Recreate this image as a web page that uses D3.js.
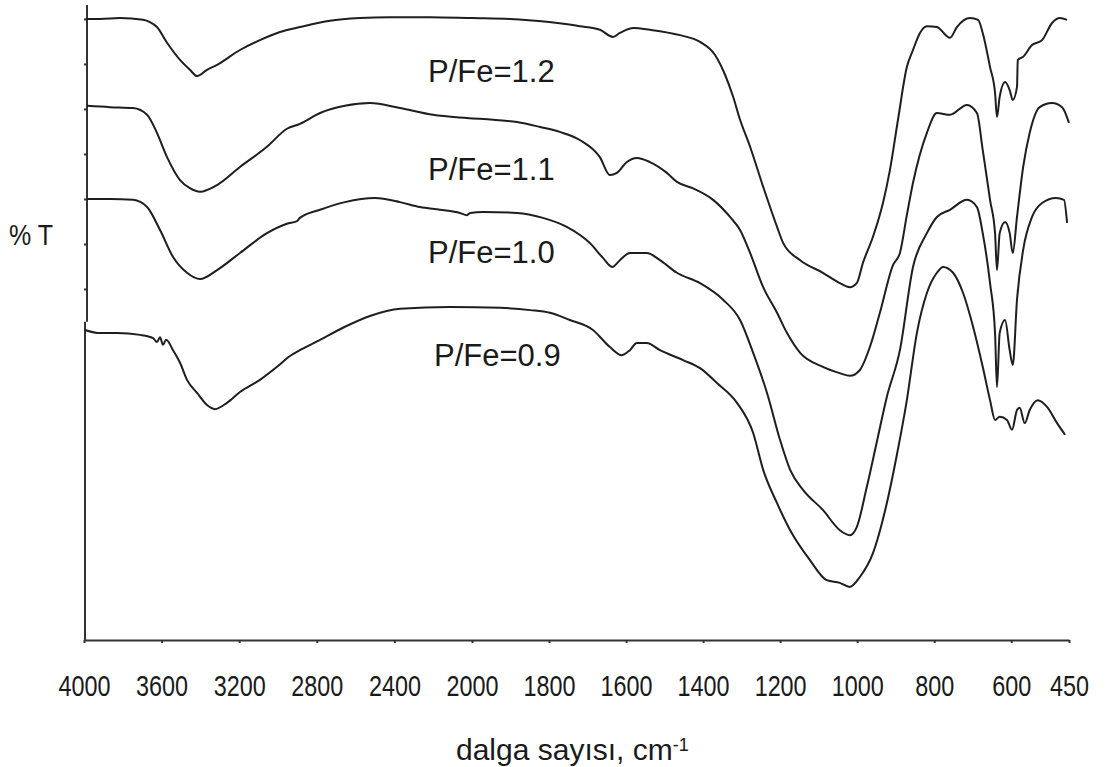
<!DOCTYPE html>
<html>
<head>
<meta charset="utf-8">
<script src="https://cdn.jsdelivr.net/npm/d3@7"></script>
<style>
  body { margin: 0; background: #fff; }
  svg text { font-family: "Liberation Sans", Arial, sans-serif; fill: #1a1a1a; }
</style>
</head>
<body>
<script>
// IR spectra, [wavenumber cm-1, %T (arbitrary, stacked)]
const fe12 = [[3990,138.0],[3918,138.0],[3814,138.2],[3696,137.8],[3660,137.3],[3624,136.2],[3572,132.7],[3505,128.9],[3454,126.7],[3417,125.3],[3366,126.7],[3314,127.8],[3196,131.1],[3093,133.3],[2990,135.1],[2887,136.2],[2732,137.6],[2577,138.2],[2423,138.4],[2216,138.4],[2000,138.2],[1901,138.0],[1800,137.3],[1720,136.4],[1668,135.6],[1634,134.0],[1616,134.9],[1580,136.0],[1538,135.6],[1460,134.4],[1408,132.9],[1369,130.0],[1343,125.6],[1322,120.7],[1304,115.6],[1278,109.6],[1244,100.7],[1208,91.8],[1192,88.2],[1148,84.4],[1089,81.6],[1045,79.3],[1019,78.4],[1001,79.3],[985,83.8],[959,89.6],[933,97.1],[915,104.4],[894,115.6],[871,127.3],[855,131.1],[837,134.9],[819,136.4],[793,136.2],[759,133.8],[741,136.2],[707,138.2],[686,137.8],[674,134.9],[655,127.3],[642,121.6],[637,116.2],[630,120.7],[616,124.0],[604,122.2],[596,120.0],[585,122.9],[583,128.9],[569,129.6],[546,132.2],[520,133.3],[494,137.1],[474,138.2],[455,137.8]];

const fe11 = [[3985,118.7],[3866,118.4],[3747,118.2],[3675,116.7],[3624,112.7],[3572,107.3],[3505,102.2],[3454,100.4],[3402,99.6],[3314,101.1],[3196,105.1],[3057,109.6],[2954,113.6],[2887,114.7],[2783,117.1],[2655,118.7],[2526,119.3],[2371,118.2],[2201,116.7],[2026,116.0],[1945,115.6],[1883,115.1],[1823,114.0],[1772,112.9],[1720,111.1],[1668,107.3],[1642,103.3],[1624,103.8],[1598,106.2],[1572,107.1],[1538,106.2],[1494,103.8],[1468,101.8],[1427,100.4],[1374,97.8],[1330,94.0],[1304,91.1],[1278,86.0],[1244,78.4],[1208,72.7],[1182,68.2],[1148,63.8],[1089,60.7],[1045,59.3],[1019,58.7],[993,60.0],[967,65.1],[941,72.7],[907,83.3],[889,86.0],[871,94.4],[855,101.6],[819,112.7],[793,117.1],[759,116.7],[715,118.9],[689,117.1],[674,108.9],[655,97.8],[642,90.4],[637,82.2],[630,90.4],[616,92.9],[604,90.4],[596,86.0],[585,94.0],[569,105.1],[552,112.7],[526,118.4],[494,119.3],[468,118.4],[450,114.9]];

const fe10 = [[3985,98.0],[3866,98.0],[3747,97.8],[3675,96.2],[3608,91.1],[3541,85.1],[3469,81.6],[3402,80.2],[3314,82.2],[3196,86.0],[3057,90.4],[2954,92.5],[2902,93.1],[2887,93.8],[2783,95.6],[2655,97.3],[2500,98.2],[2371,97.3],[2268,96.2],[2165,95.6],[2062,94.9],[2026,94.4],[2010,94.9],[1971,95.1],[1883,94.9],[1816,93.8],[1754,91.8],[1694,88.2],[1660,84.9],[1636,82.9],[1616,84.4],[1590,86.0],[1546,86.0],[1512,84.4],[1468,81.6],[1408,79.3],[1348,75.6],[1304,71.1],[1270,63.8],[1234,54.9],[1200,44.4],[1174,37.8],[1140,33.3],[1089,28.9],[1045,24.4],[1019,23.3],[1001,25.1],[975,34.0],[948,44.4],[923,54.0],[889,64.4],[855,82.9],[819,90.4],[793,94.0],[759,95.6],[715,97.8],[689,96.2],[674,90.4],[655,79.3],[642,68.2],[637,56.2],[630,68.2],[616,71.1],[604,64.4],[596,61.1],[585,75.6],[569,86.7],[546,94.0],[520,97.1],[484,98.2],[463,97.8],[455,92.7]];

const fe09 = [[3995,68.9],[3918,68.2],[3830,68.2],[3711,67.8],[3644,67.1],[3624,66.2],[3608,67.3],[3593,65.6],[3577,66.7],[3541,64.4],[3505,61.6],[3469,57.8],[3417,54.9],[3366,52.2],[3325,51.3],[3263,52.7],[3196,55.1],[3093,57.8],[3005,60.7],[2938,63.1],[2887,64.4],[2783,66.7],[2655,69.6],[2526,72.0],[2371,73.6],[2113,74.0],[1927,73.8],[1849,73.3],[1798,72.7],[1746,71.1],[1686,68.9],[1642,65.1],[1611,63.3],[1590,64.4],[1572,66.0],[1546,66.0],[1512,64.4],[1452,62.2],[1408,60.4],[1364,57.1],[1312,52.7],[1270,46.0],[1244,37.8],[1208,30.4],[1174,24.4],[1123,17.8],[1079,13.3],[1045,12.7],[1019,11.8],[993,14.0],[959,19.3],[923,30.4],[897,41.1],[871,53.3],[845,68.2],[819,77.1],[793,81.6],[777,82.9],[751,81.6],[725,77.1],[699,69.6],[674,60.7],[655,53.3],[642,48.9],[630,49.6],[611,48.9],[598,46.7],[585,51.1],[578,51.6],[565,48.2],[552,51.1],[531,53.3],[507,51.8],[481,48.2],[460,45.6]];

const seriesLabels = ['P/Fe=1.2', 'P/Fe=1.1', 'P/Fe=1.0', 'P/Fe=0.9'];
// label anchors in data units [wavenumber, %T]
const labelAnchors = [[2227, 124.0], [2227, 102.2], [2227, 83.8], [2196, 60.9]];

const xTicks = [4000, 3600, 3200, 2800, 2400, 2000, 1800, 1600, 1400, 1200, 1000, 800, 600, 450];
const yTicks = [78, 88, 98, 108, 118, 128, 138];
const yBreak = 70.7; // where the left axis line is offset

const W = 1111, H = 767;
const margin = { left: 84, right: 1069, top: 5, bottom: 640 };

const svg = d3.select('body').append('svg')
  .attr('width', W)
  .attr('height', H);

// x axis changes scale at 2000 cm-1
const x = d3.scaleLinear()
  .domain([4000, 2000, 450])
  .range([margin.left, 472, margin.right]);

const y = d3.scaleLinear()
  .domain([0, 141.1])
  .range([margin.bottom, margin.top]);

// X axis
const xAxis = svg.append('g')
  .attr('transform', `translate(0,${margin.bottom})`)
  .call(d3.axisBottom(x).tickValues(xTicks).tickSize(3).tickSizeOuter(0).tickFormat(d3.format('d')));
xAxis.select('.domain').attr('stroke', '#333').attr('stroke-width', 2);
xAxis.selectAll('.tick line').attr('stroke', '#333').attr('stroke-width', 2);
xAxis.selectAll('.tick text')
  .attr('y', 56)
  .attr('dy', null)
  .attr('font-size', 30)
  .attr('textLength', d => d >= 1000 ? 52 : 39)
  .attr('lengthAdjust', 'spacingAndGlyphs')
  .style('font-family', '"Liberation Sans", Arial, sans-serif')
  .attr('fill', '#1a1a1a');

// Y axis (ticks only on upper part, line drawn in two pieces)
const yAxis = svg.append('g')
  .attr('transform', `translate(${margin.left + 3},0)`)
  .call(d3.axisLeft(y).tickValues(yTicks).tickSize(3).tickFormat(''));
yAxis.select('.domain').remove();
yAxis.selectAll('.tick line').attr('stroke', '#333').attr('stroke-width', 2);

svg.append('line')
  .attr('x1', margin.left + 3).attr('x2', margin.left + 3)
  .attr('y1', y(141.1)).attr('y2', y(yBreak))
  .attr('stroke', '#333').attr('stroke-width', 2);
svg.append('line')
  .attr('x1', margin.left + 1).attr('x2', margin.left + 1)
  .attr('y1', y(yBreak)).attr('y2', margin.bottom + 1)
  .attr('stroke', '#333').attr('stroke-width', 2);

// spectra
const line = d3.line()
  .x(d => x(d[0]))
  .y(d => y(d[1]))
  .curve(d3.curveMonotoneX);

[fe12, fe11, fe10, fe09].forEach(s => {
  svg.append('path')
    .datum(s)
    .attr('fill', 'none')
    .attr('stroke', '#1e1e1e')
    .attr('stroke-width', 2)
    .attr('stroke-linejoin', 'round')
    .attr('d', line);
});

// series labels
svg.selectAll('.series-label')
  .data(seriesLabels)
  .enter()
  .append('text')
  .attr('class', 'series-label')
  .attr('x', (d, i) => x(labelAnchors[i][0]))
  .attr('y', (d, i) => y(labelAnchors[i][1]))
  .attr('font-size', 31)
  .text(d => d);

// axis titles
svg.append('text')
  .attr('x', 9)
  .attr('y', 245)
  .attr('font-size', 30)
  .attr('textLength', 44)
  .attr('lengthAdjust', 'spacingAndGlyphs')
  .text('% T');

const xTitle = svg.append('text')
  .attr('x', 456)
  .attr('y', 760)
  .attr('font-size', 30)
  .text('dalga sayısı, cm');
xTitle.append('tspan')
  .attr('dy', -9)
  .attr('font-size', 18)
  .text('-1');
</script>
</body>
</html>
